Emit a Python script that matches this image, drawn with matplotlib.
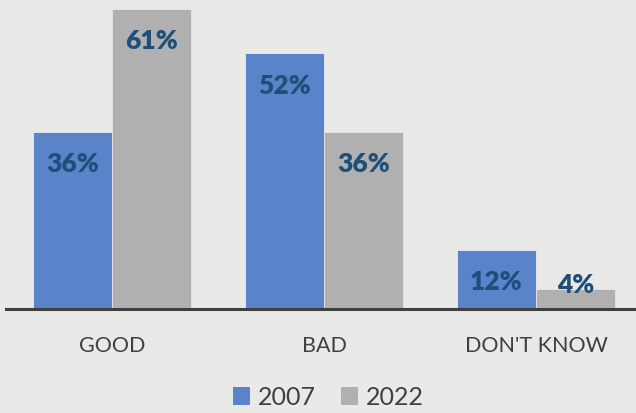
import matplotlib
matplotlib.use("Agg")
import matplotlib.pyplot as plt
import numpy as np
from matplotlib.patches import Patch

categories = ["GOOD", "BAD", "DON'T KNOW"]
series_names = ["2007", "2022"]
values_2007 = [36, 52, 12]
values_2022 = [61, 36, 4]

plt.rcParams['font.family'] = ['Lato', 'DejaVu Sans']

BG = '#e9e9e8'
BLUE = '#5b83c9'
GRAY = '#b0b0b0'
LABEL = '#1f4e79'
TEXT = '#404040'

fig = plt.figure(figsize=(6.36, 4.14), dpi=100, facecolor=BG)
W, H = 636, 414
left_px, right_px, base_px, top_px = 6, 636, 310, 10
ax = fig.add_axes([left_px / W, 1 - base_px / H, (right_px - left_px) / W, (base_px - top_px) / H])
ax.set_facecolor(BG)

x = np.arange(len(categories))
bw = 0.373
ax.bar(x - bw / 2, values_2007, bw, color=BLUE, edgecolor='#e4ecf7', linewidth=0.6, label=series_names[0])
ax.bar(x + bw / 2, values_2022, bw, color=GRAY, edgecolor='#e6e6e6', linewidth=0.6, label=series_names[1])

ax.set_xlim(-0.5, (right_px - 112) / 212)
ax.set_ylim(0, 61)

for xs, vals in ((x - bw / 2, values_2007), (x + bw / 2, values_2022)):
    for xi, v in zip(xs, vals):
        y = max(v - 6.4, 5.1)
        ax.text(xi, y, f"{v}%", ha='center', va='center', fontsize=19, fontweight='heavy', color=LABEL)

for s in ['top', 'right', 'left']:
    ax.spines[s].set_visible(False)
ax.spines['bottom'].set_color(TEXT)
ax.spines['bottom'].set_linewidth(2.2)
ax.set_yticks([])
ax.set_xticks(x)
ax.set_xticklabels(categories, fontsize=15.5, color=TEXT)
ax.tick_params(axis='x', length=0, pad=19)

handles = [Patch(facecolor=BLUE, edgecolor='none'), Patch(facecolor=GRAY, edgecolor='none')]
fig.legend(handles, series_names, loc='center', bbox_to_anchor=(328 / W, 1 - 398 / H), ncol=2,
           frameon=False, fontsize=18, labelcolor=TEXT, handlelength=0.7, handleheight=0.7,
           handletextpad=0.3, columnspacing=1.0)

fig.savefig("out.png", dpi=100, facecolor=BG)
